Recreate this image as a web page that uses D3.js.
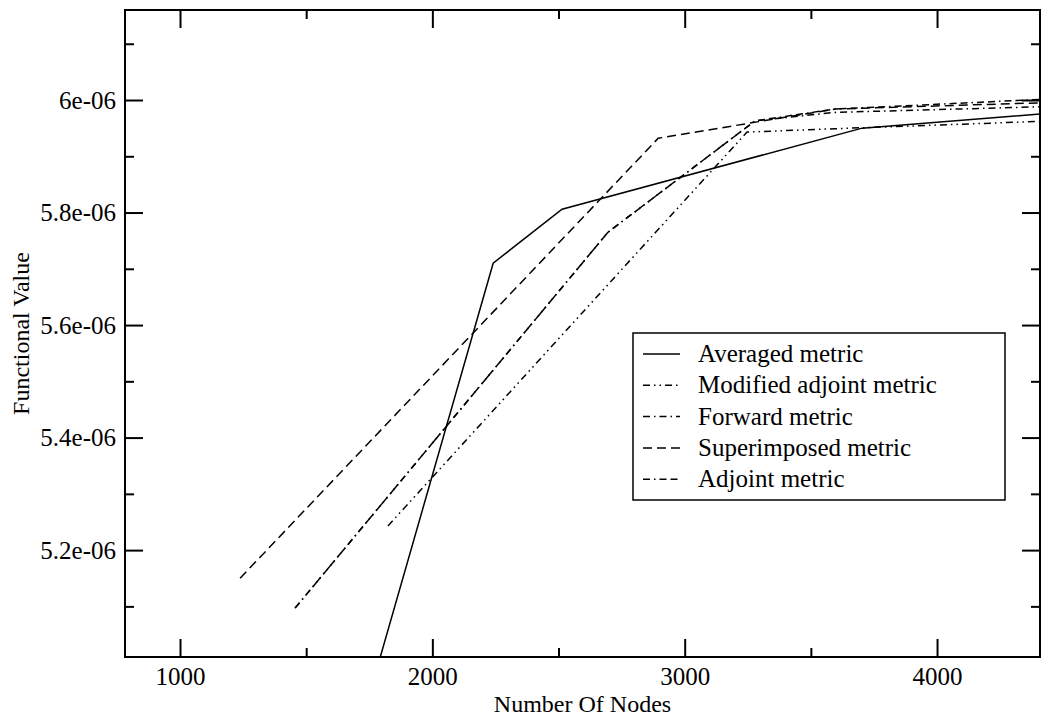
<!DOCTYPE html>
<html>
<head>
<meta charset="utf-8">
<script src="https://cdn.jsdelivr.net/npm/d3@7"></script>
<style>
  body { margin: 0; background: #fff; }
  text { font-family: "Liberation Serif", "Times New Roman", serif; fill: #000; }
</style>
</head>
<body>
<div class="canvas"></div>
<script>
// series data
var seriesNames = ["Averaged metric", "Modified adjoint metric", "Forward metric", "Superimposed metric", "Adjoint metric"];
var seriesDash = ["none", "7,4,1.5,4,1.5,4", "7,4,1.5,4", "9,5", "7,4,1.5,4,7,4"];

var averagedNodes = [1784, 2241, 2514, 3703, 4408];
var averagedValues = [4.995e-6, 5.710e-6, 5.806e-6, 5.950e-6, 5.975e-6];

var modifiedNodes = [1824, 3247, 3596, 4408];
var modifiedValues = [5.243e-6, 5.943e-6, 5.949e-6, 5.962e-6];

var forwardNodes = [1456, 2696, 3279, 3596, 4408];
var forwardValues = [5.097e-6, 5.765e-6, 5.963e-6, 5.978e-6, 5.988e-6];

var superNodes = [1238, 2895, 3596, 4408];
var superValues = [5.150e-6, 5.932e-6, 5.984e-6, 5.995e-6];

var adjointNodes = [1456, 2696, 3279, 3596, 4408];
var adjointValues = [5.097e-6, 5.765e-6, 5.963e-6, 5.984e-6, 6.001e-6];

var xMajor = [1000, 2000, 3000, 4000];
var xMinor = [1500, 2500, 3500];
var yMajor = [5.2e-6, 5.4e-6, 5.6e-6, 5.8e-6, 6.0e-6];
var yLabels = ["5.2e-06", "5.4e-06", "5.6e-06", "5.8e-06", "6e-06"];
var yMinor = [5.1e-6, 5.3e-6, 5.5e-6, 5.7e-6, 5.9e-6, 6.1e-6];

var allNodes = [averagedNodes, modifiedNodes, forwardNodes, superNodes, adjointNodes];
var allValues = [averagedValues, modifiedValues, forwardValues, superValues, adjointValues];

var W = 1042, H = 719;
var plotLeft = 125, plotTop = 10, plotRight = 1040, plotBottom = 657;

var svg = d3.select(".canvas").append("svg")
    .attr("width", W)
    .attr("height", H);

var x = d3.scaleLinear().domain([782, 4408]).range([plotLeft, plotRight]);
var y = d3.scaleLinear().domain([5.01e-6, 6.16e-6]).range([plotBottom, plotTop]);

svg.append("clipPath").attr("id", "clip")
    .append("rect")
    .attr("x", plotLeft).attr("y", plotTop)
    .attr("width", plotRight - plotLeft).attr("height", plotBottom - plotTop);

// lines
var line = d3.line()
    .x(function(d){ return x(d[0]); })
    .y(function(d){ return y(d[1]); });

var series = seriesNames.map(function(name, i){
    return allNodes[i].map(function(n, j){ return [n, allValues[i][j]]; });
});

svg.append("g").attr("clip-path", "url(#clip)")
    .selectAll("path")
    .data(series)
    .enter()
    .append("path")
    .attr("d", line)
    .attr("fill", "none")
    .attr("stroke", "#000")
    .attr("stroke-width", 1.5)
    .attr("stroke-dasharray", function(d, i){ return seriesDash[i] === "none" ? null : seriesDash[i]; });

// axes, ticks pointing inward on all four sides
var fontSize = 25;
function styleAxis(g){
    g.select(".domain").remove();
    g.selectAll("line").attr("stroke", "#000").attr("stroke-width", 2);
    g.selectAll("text").style("font-size", fontSize + "px").style("font-family", "Liberation Serif, Times New Roman, serif");
}

svg.append("g").attr("transform", "translate(0," + plotBottom + ")")
    .call(d3.axisBottom(x).tickValues(xMajor).tickSizeInner(-18).tickSizeOuter(0).tickPadding(10).tickFormat(d3.format("d")))
    .call(styleAxis);
svg.append("g").attr("transform", "translate(0," + plotBottom + ")")
    .call(d3.axisBottom(x).tickValues(xMinor).tickSizeInner(-9).tickSizeOuter(0).tickFormat(""))
    .call(styleAxis);
svg.append("g").attr("transform", "translate(0," + plotTop + ")")
    .call(d3.axisTop(x).tickValues(xMajor).tickSizeInner(-18).tickSizeOuter(0).tickFormat(""))
    .call(styleAxis);
svg.append("g").attr("transform", "translate(0," + plotTop + ")")
    .call(d3.axisTop(x).tickValues(xMinor).tickSizeInner(-9).tickSizeOuter(0).tickFormat(""))
    .call(styleAxis);

svg.append("g").attr("transform", "translate(" + plotLeft + ",0)")
    .call(d3.axisLeft(y).tickValues(yMajor).tickSizeInner(-18).tickSizeOuter(0).tickPadding(9)
        .tickFormat(function(d, i){ return yLabels[i]; }))
    .call(styleAxis);
svg.append("g").attr("transform", "translate(" + plotLeft + ",0)")
    .call(d3.axisLeft(y).tickValues(yMinor).tickSizeInner(-9).tickSizeOuter(0).tickFormat(""))
    .call(styleAxis);
svg.append("g").attr("transform", "translate(" + plotRight + ",0)")
    .call(d3.axisRight(y).tickValues(yMajor).tickSizeInner(-18).tickSizeOuter(0).tickFormat(""))
    .call(styleAxis);
svg.append("g").attr("transform", "translate(" + plotRight + ",0)")
    .call(d3.axisRight(y).tickValues(yMinor).tickSizeInner(-9).tickSizeOuter(0).tickFormat(""))
    .call(styleAxis);

// frame
svg.append("rect")
    .attr("x", plotLeft).attr("y", plotTop)
    .attr("width", plotRight - plotLeft).attr("height", plotBottom - plotTop)
    .attr("fill", "none")
    .attr("stroke", "#000")
    .attr("stroke-width", 2);

// axis titles
svg.append("text")
    .attr("x", (plotLeft + plotRight) / 2)
    .attr("y", 712)
    .attr("text-anchor", "middle")
    .style("font-size", "24px")
    .text("Number Of Nodes");

svg.append("text")
    .attr("transform", "translate(29," + ((plotTop + plotBottom) / 2) + ") rotate(-90)")
    .attr("text-anchor", "middle")
    .style("font-size", "24px")
    .text("Functional Value");

// legend
var legend = svg.append("g");
legend.append("rect")
    .attr("x", 633).attr("y", 333)
    .attr("width", 372).attr("height", 167)
    .attr("fill", "#fff")
    .attr("stroke", "#000")
    .attr("stroke-width", 1.5);

var rows = legend.selectAll(".row")
    .data(seriesNames)
    .enter()
    .append("g")
    .attr("transform", function(d, i){ return "translate(0," + (354 + i * 31.3) + ")"; });

rows.append("line")
    .attr("x1", 643).attr("x2", 680)
    .attr("y1", 0).attr("y2", 0)
    .attr("stroke", "#000")
    .attr("stroke-width", 1.5)
    .attr("stroke-dasharray", function(d, i){ return seriesDash[i] === "none" ? null : seriesDash[i]; });

rows.append("text")
    .attr("x", 698)
    .attr("y", 8)
    .style("font-size", "25px")
    .text(function(d){ return d; });
</script>
</body>
</html>
